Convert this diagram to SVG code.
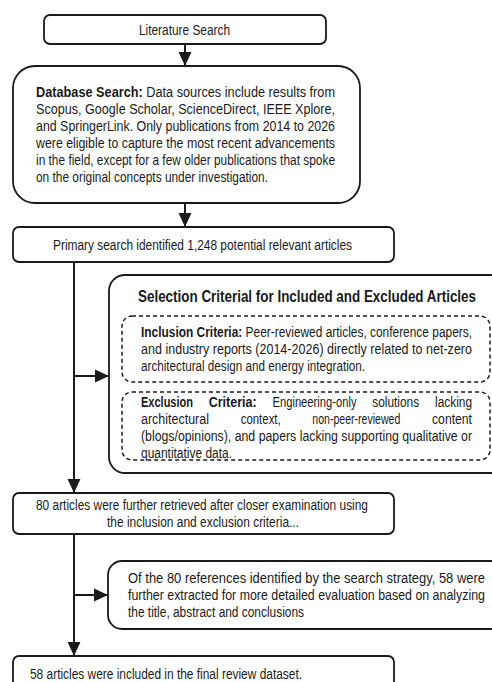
<svg xmlns="http://www.w3.org/2000/svg" width="492" height="682" viewBox="0 0 492 682">
<defs>
<style>
.box{fill:#fff;stroke:#1a1a1a;stroke-width:1.8}
.dash{fill:none;stroke:#1a1a1a;stroke-width:1.5;stroke-dasharray:4 3}
.t{font-family:"Liberation Sans",Arial,sans-serif;font-size:14px;fill:#1a1a1a}
.b{font-weight:bold}
.title{font-family:"Liberation Sans",Arial,sans-serif;font-size:16px;font-weight:bold;fill:#1a1a1a}
.conn{fill:none;stroke:#1a1a1a;stroke-width:2}
</style>
<marker id="ah" markerUnits="userSpaceOnUse" markerWidth="14" markerHeight="14" viewBox="0 0 13 12" refX="13" refY="6" orient="auto">
<path d="M0,0 L13,6 L0,12 Z" fill="#1a1a1a"/>
</marker>
</defs>
<rect width="492" height="682" fill="#fff"/>

<g id="connectors">
<path class="conn" d="M185,44 V66" marker-end="url(#ah)"/>
<path class="conn" d="M185,203 V227" marker-end="url(#ah)"/>
<path class="conn" d="M74,262 V493" marker-end="url(#ah)"/>
<path class="conn" d="M74,376 H109" marker-end="url(#ah)"/>
<path class="conn" d="M74,534 V656" marker-end="url(#ah)"/>
<path class="conn" d="M74,595 H108" marker-end="url(#ah)"/>
</g>

<g id="literature-search">
<rect class="box" x="44" y="15" width="282" height="29" rx="6"/>
<text class="t" x="139" y="34.5" textLength="91" lengthAdjust="spacingAndGlyphs">Literature Search</text>
</g>

<g id="database-search">
<rect class="box" x="13" y="66" width="347" height="137" rx="22"/>
<text class="t" x="36" y="97" textLength="299" lengthAdjust="spacingAndGlyphs"><tspan class="b">Database Search:</tspan> Data sources include results from</text>
<text class="t" x="36" y="114" textLength="299" lengthAdjust="spacingAndGlyphs">Scopus, Google Scholar, ScienceDirect, IEEE Xplore,</text>
<text class="t" x="36" y="131" textLength="299" lengthAdjust="spacingAndGlyphs">and SpringerLink. Only publications from 2014 to 2026</text>
<text class="t" x="36" y="148" textLength="299" lengthAdjust="spacingAndGlyphs">were eligible to capture the most recent advancements</text>
<text class="t" x="36" y="165" textLength="299" lengthAdjust="spacingAndGlyphs">in the field, except for a few older publications that spoke</text>
<text class="t" x="36" y="182" textLength="232" lengthAdjust="spacingAndGlyphs">on the original concepts under investigation.</text>
</g>

<g id="primary-search">
<rect class="box" x="13" y="227" width="381" height="35" rx="6"/>
<text class="t" x="53" y="249.5" textLength="299" lengthAdjust="spacingAndGlyphs">Primary search identified 1,248 potential relevant articles</text>
</g>

<g id="selection-criteria">
<rect class="box" x="109" y="275" width="400" height="198" rx="16"/>
<text class="title" x="138" y="302" textLength="338" lengthAdjust="spacingAndGlyphs">Selection Criterial for Included and Excluded Articles</text>
<g id="inclusion-criteria">
<rect class="dash" x="122" y="316" width="368" height="66" rx="10"/>
<text class="t" x="141" y="337" textLength="331" lengthAdjust="spacingAndGlyphs"><tspan class="b">Inclusion Criteria:</tspan> Peer-reviewed articles, conference papers,</text>
<text class="t" x="141" y="354" textLength="331" lengthAdjust="spacingAndGlyphs">and industry reports (2014-2026) directly related to net-zero</text>
<text class="t" x="141" y="371" textLength="224" lengthAdjust="spacingAndGlyphs">architectural design and energy integration.</text>
</g>
<g id="exclusion-criteria">
<rect class="dash" x="122" y="392" width="368" height="68" rx="10"/>
<text class="t b" x="141" y="407" textLength="52" lengthAdjust="spacingAndGlyphs">Exclusion</text>
<text class="t b" x="208.7" y="407" textLength="48" lengthAdjust="spacingAndGlyphs">Criteria:</text>
<text class="t" x="272.5" y="407" textLength="84" lengthAdjust="spacingAndGlyphs">Engineering-only</text>
<text class="t" x="372.2" y="407" textLength="47" lengthAdjust="spacingAndGlyphs">solutions</text>
<text class="t" x="435" y="407" textLength="37" lengthAdjust="spacingAndGlyphs">lacking</text>
<text class="t" x="141" y="424" textLength="68" lengthAdjust="spacingAndGlyphs">architectural</text>
<text class="t" x="240.7" y="424" textLength="40" lengthAdjust="spacingAndGlyphs">context,</text>
<text class="t" x="312.3" y="424" textLength="88" lengthAdjust="spacingAndGlyphs">non-peer-reviewed</text>
<text class="t" x="432" y="424" textLength="40" lengthAdjust="spacingAndGlyphs">content</text>
<text class="t" x="141" y="441" textLength="331" lengthAdjust="spacingAndGlyphs">(blogs/opinions), and papers lacking supporting qualitative or</text>
<text class="t" x="141" y="458" textLength="91" lengthAdjust="spacingAndGlyphs">quantitative data.</text>
</g>
</g>

<g id="further-retrieved">
<rect class="box" x="13" y="493" width="381" height="41" rx="6"/>
<text class="t" x="36" y="510" textLength="332" lengthAdjust="spacingAndGlyphs">80 articles were further retrieved after closer examination using</text>
<text class="t" x="107" y="527" textLength="192" lengthAdjust="spacingAndGlyphs">the inclusion and exclusion criteria...</text>
</g>

<g id="further-extracted">
<rect class="box" x="108" y="561" width="400" height="68" rx="14"/>
<text class="t" x="128" y="583" textLength="357" lengthAdjust="spacingAndGlyphs">Of the 80 references identified by the search strategy, 58 were</text>
<text class="t" x="128" y="600" textLength="357" lengthAdjust="spacingAndGlyphs">further extracted for more detailed evaluation based on analyzing</text>
<text class="t" x="128" y="617" textLength="176" lengthAdjust="spacingAndGlyphs">the title, abstract and conclusions</text>
</g>

<g id="final-dataset">
<rect class="box" x="13" y="656" width="381" height="50" rx="6"/>
<text class="t" x="30" y="679" textLength="272" lengthAdjust="spacingAndGlyphs">58 articles were included in the final review dataset.</text>
</g>
</svg>
